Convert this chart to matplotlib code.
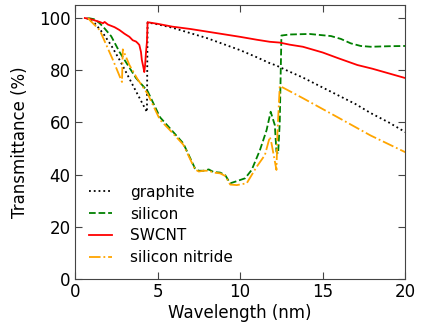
import matplotlib
matplotlib.use('Agg')
import matplotlib.pyplot as plt

# Transmittance curves (wavelength in nm, transmittance in %)
graphite_x = [0.7, 1.2, 1.7, 2.2, 2.7, 3.2, 3.75, 4.36, 4.4, 5.0, 5.9, 7.0, 8.0, 9.0,
              10.0, 11.0, 11.8, 12.2, 12.8, 13.8, 14.8, 15.9, 17.0, 17.9, 19.0, 20.0]
graphite_y = [100, 98, 94.2, 89.5, 84, 78, 71.3, 64, 98.3, 97.6, 96.3, 94.2, 92.3, 90,
              87.7, 85, 82.7, 81.8, 80, 77.2, 74, 70.5, 67, 63.6, 60, 56.3]

silicon_x = [0.8, 1.2, 1.5, 1.8, 2.2, 2.7, 3.2, 3.7, 4.4, 5.15, 5.76, 6.56, 7.27, 7.5,
             7.78, 8.1, 8.4, 8.79, 9.1, 9.4, 9.7, 10.3, 10.7, 11.2, 11.6, 11.85, 12.1,
             12.2, 12.3, 12.4, 12.5, 13.0, 14.2, 15.5, 16.1, 16.7, 17.3, 17.9, 19.0, 20.0]
silicon_y = [100, 99.5, 98, 96, 93, 87, 82, 77, 72, 62, 57.7, 52, 42.4, 41.5,
             41.5, 42, 41, 40.8, 39.8, 36.7, 37.3, 38.6, 41.8, 49.4, 57, 64.1, 59,
             48.8, 48, 60, 93.3, 93.7, 93.9, 93.1, 92, 90.3, 89.3, 89, 89.2, 89.3]

swcnt_x = [0.6, 1.0, 1.5, 1.7, 1.8, 2.0, 2.4, 2.7, 3.0, 3.3, 3.5, 3.7, 3.8, 3.9, 4.0,
           4.05, 4.15, 4.2, 4.25, 4.3, 4.36, 4.4, 5.0, 5.9, 7.0, 8.0, 9.0, 10.0, 11.0,
           11.8, 12.2, 12.4, 13.0, 13.8, 15.0, 15.9, 17.1, 18.0, 19.0, 20.0]
swcnt_y = [100, 99.5, 98.5, 98, 98.5, 97.5, 96.5, 95.4, 94, 92.8, 91.5, 91, 90.4, 89.7, 87,
           84, 81, 79.3, 82, 86.6, 90.8, 98.4, 97.8, 96.7, 95.8, 94.8, 93.8, 92.8, 91.7,
           90.9, 90.7, 90.6, 89.8, 89, 86.8, 84.7, 82, 80.6, 78.8, 77]

nitride_x = [0.8, 0.9, 1.5, 2.3, 2.85, 2.9, 3.3, 3.8, 4.4, 5.15, 5.76, 6.56, 7.27, 7.5,
             7.78, 8.1, 8.4, 8.79, 9.1, 9.4, 9.8, 10.4, 11.0, 11.5, 11.8, 11.9, 12.2,
             12.26, 12.4, 13.8, 15.9, 17.9, 20.0]
nitride_y = [100, 99.2, 95.4, 84, 75.5, 88, 82, 76.5, 71, 61, 57, 51.5, 42, 41.2,
             41.5, 41.5, 40.8, 40.5, 39.5, 36.2, 36, 36.7, 43, 47.5, 54.5, 52, 41.8,
             56, 74, 69.3, 62, 55, 48.6]

fig = plt.figure(figsize=(4.28, 3.33), dpi=100)
ax = fig.add_axes([0.175, 0.162, 0.772, 0.823])

ax.plot(graphite_x, graphite_y, ':', color='black', lw=1.3, label='graphite')
ax.plot(silicon_x, silicon_y, '--', color='green', lw=1.3, label='silicon')
ax.plot(swcnt_x, swcnt_y, '-', color='red', lw=1.3, label='SWCNT')
ax.plot(nitride_x, nitride_y, '-.', color='orange', lw=1.3, label='silicon nitride')

ax.set_xlim(0, 20)
ax.set_ylim(0, 105)
ax.set_xticks([0, 5, 10, 15, 20])
ax.set_yticks([0, 20, 40, 60, 80, 100])
ax.set_xlabel('Wavelength (nm)', fontsize=12, labelpad=2)
ax.set_ylabel('Transmittance (%)', fontsize=12, labelpad=7)

for side in ax.spines:
    ax.spines[side].set_color('#444444')
ax.tick_params(direction='in', top=True, right=True, length=5, color='#444444',
               labelsize=12, pad=3)

ax.legend(loc='lower left', frameon=False, fontsize=11, handlelength=1.5,
          handletextpad=1.2, labelspacing=0.45)

fig.savefig('out.png', dpi=100)
